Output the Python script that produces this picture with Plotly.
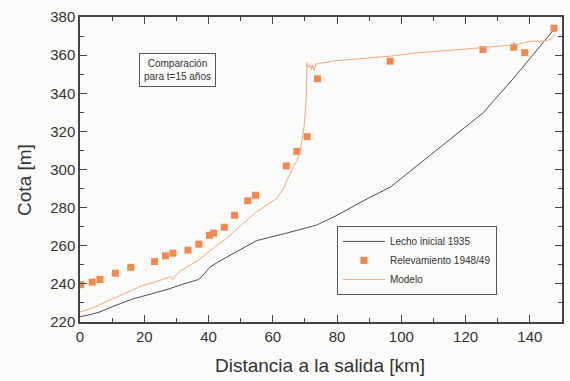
import plotly.graph_objects as go

# Lecho inicial 1935
lecho_x = [0, 3, 6.2, 10, 16.1, 22, 27, 32, 36.9, 38, 39.5, 40.5, 44, 49.8, 55, 64, 73.7, 80, 88.3, 96.6, 110, 125.5, 136, 147, 148]
lecho_y = [222.8, 223.8, 225.3, 228, 231.9, 234.5, 237, 239.8, 242.3, 244, 247, 248.9, 252.5, 258, 262.7, 266.5, 270.9, 276, 283.7, 290.8, 309, 329.8, 350, 372.5, 373]

# Relevamiento 1948/49
relev_x = [0.2, 3.8, 6.2, 11, 15.8, 23.2, 26.6, 28.9, 33.6, 37, 40.3, 41.6, 44.9, 48.1, 52.2, 54.6, 64.2, 67.5, 70.7, 73.9, 96.5, 125.4, 135, 138.4, 147.5]
relev_y = [239.6, 240.9, 242.3, 245.6, 248.7, 251.7, 254.7, 256.1, 257.7, 260.8, 265.5, 266.6, 269.7, 276, 283.6, 286.5, 301.9, 309.5, 317.2, 347.6, 356.8, 362.9, 364.1, 361.3, 374.1]

# Modelo
model_x = [0, 2, 4.2, 6, 9.3, 12, 15, 19.7, 23, 27, 28.2, 28.9, 29.6, 31.2, 34, 37, 39.5, 42, 45, 47.8,
           51, 55, 57, 59.2, 61, 62.3, 63.5, 64.4, 66, 67.5, 68.5, 69.1, 69.7, 70.1, 70.4, 70.6, 71.1, 71.6,
           72.0, 72.4, 72.9, 73.4, 74.0, 74.8, 78.9, 83, 88.3, 93, 98, 103.8, 110, 117, 124.6, 130, 134.5,
           135, 135.5, 138, 141.2, 143, 145.4, 146.5, 148]
model_y = [225.2, 226.3, 227.6, 229, 231.4, 233.5, 235.8, 239.3, 240.8, 243.2, 243.8, 242.2, 244.2, 246.8, 249.6,
           252.6, 256, 259.5, 263, 267.3, 272, 277.8, 280, 282.2, 284.5, 287.4, 290.5, 294.4, 299.5, 304.9,
           309.5, 315.4, 322, 329.5, 337, 355.7, 353.5, 355, 352.5, 354.8, 351.8, 355.5, 355.4, 355.7, 357,
           357.5, 358.3, 359, 359.7, 361, 361.8, 362.6, 363.6, 364.6, 365.3, 366.8, 365.3, 366.5, 367.4,
           367.2, 367.7, 368.5, 371.5]

FONT = "Liberation Sans, Arial, sans-serif"
BG = "#fbfbf9"
TXT = "#333333"

fig = go.Figure()
fig.add_trace(go.Scatter(x=lecho_x, y=lecho_y, mode="lines", name="Lecho inicial 1935",
                         line=dict(color="#3a3a3a", width=0.9)))
fig.add_trace(go.Scatter(x=relev_x, y=relev_y, mode="markers", name="Relevamiento 1948/49",
                         marker=dict(symbol="square", size=7, color="#f5884f")))
fig.add_trace(go.Scatter(x=model_x, y=model_y, mode="lines", name="Modelo",
                         line=dict(color="#f7a67a", width=1)))

axis_common = dict(
    showline=True, linecolor="#444444", linewidth=1.5, mirror="ticks",
    ticks="inside", ticklen=7, tickwidth=1.3, tickcolor="#444444",
    showgrid=False, zeroline=False, automargin=False,
    tickfont=dict(family=FONT, size=15, color=TXT),
)

fig.update_xaxes(range=[0, 150], dtick=20, tick0=0,
                 minor=dict(dtick=10, ticks="inside", ticklen=4, tickcolor="#444444", tickwidth=1),
                 **axis_common)
fig.update_yaxes(range=[220, 380], dtick=20, tick0=220,
                 minor=dict(dtick=10, ticks="inside", ticklen=4, tickcolor="#444444", tickwidth=1),
                 **axis_common)

# axis titles
fig.add_annotation(xref="paper", yref="paper", x=0.498, y=-0.141, xanchor="center", yanchor="middle",
                   showarrow=False, text="Distancia a la salida [km]",
                   font=dict(family=FONT, size=19, color=TXT))
fig.add_annotation(xref="paper", yref="paper", x=-0.114, y=0.466, xanchor="center", yanchor="middle",
                   showarrow=False, text="Cota [m]", textangle=-90,
                   font=dict(family=FONT, size=19, color=TXT))

fig.add_annotation(xref="paper", yref="paper", x=0.203, y=0.826, xanchor="center", yanchor="middle",
                   showarrow=False,
                   text="Comparación<br>para t=15 años",
                   font=dict(family=FONT, size=10, color=TXT),
                   bordercolor="#555555", borderwidth=1, borderpad=4, bgcolor=BG)

fig.update_layout(
    width=570, height=381,
    margin=dict(l=80, r=8, t=17, b=59),
    paper_bgcolor=BG, plot_bgcolor=BG,
    font=dict(family=FONT, color=TXT),
    legend=dict(x=0.533, y=0.315, xanchor="left", yanchor="top",
                bgcolor=BG, bordercolor="#555555", borderwidth=1,
                font=dict(family=FONT, size=10, color=TXT),
                tracegroupgap=0, itemwidth=42),
)

fig.write_html("out.html", config={"displayModeBar": False},
               post_script="document.body.style.margin='0';document.body.style.overflow='hidden';")
